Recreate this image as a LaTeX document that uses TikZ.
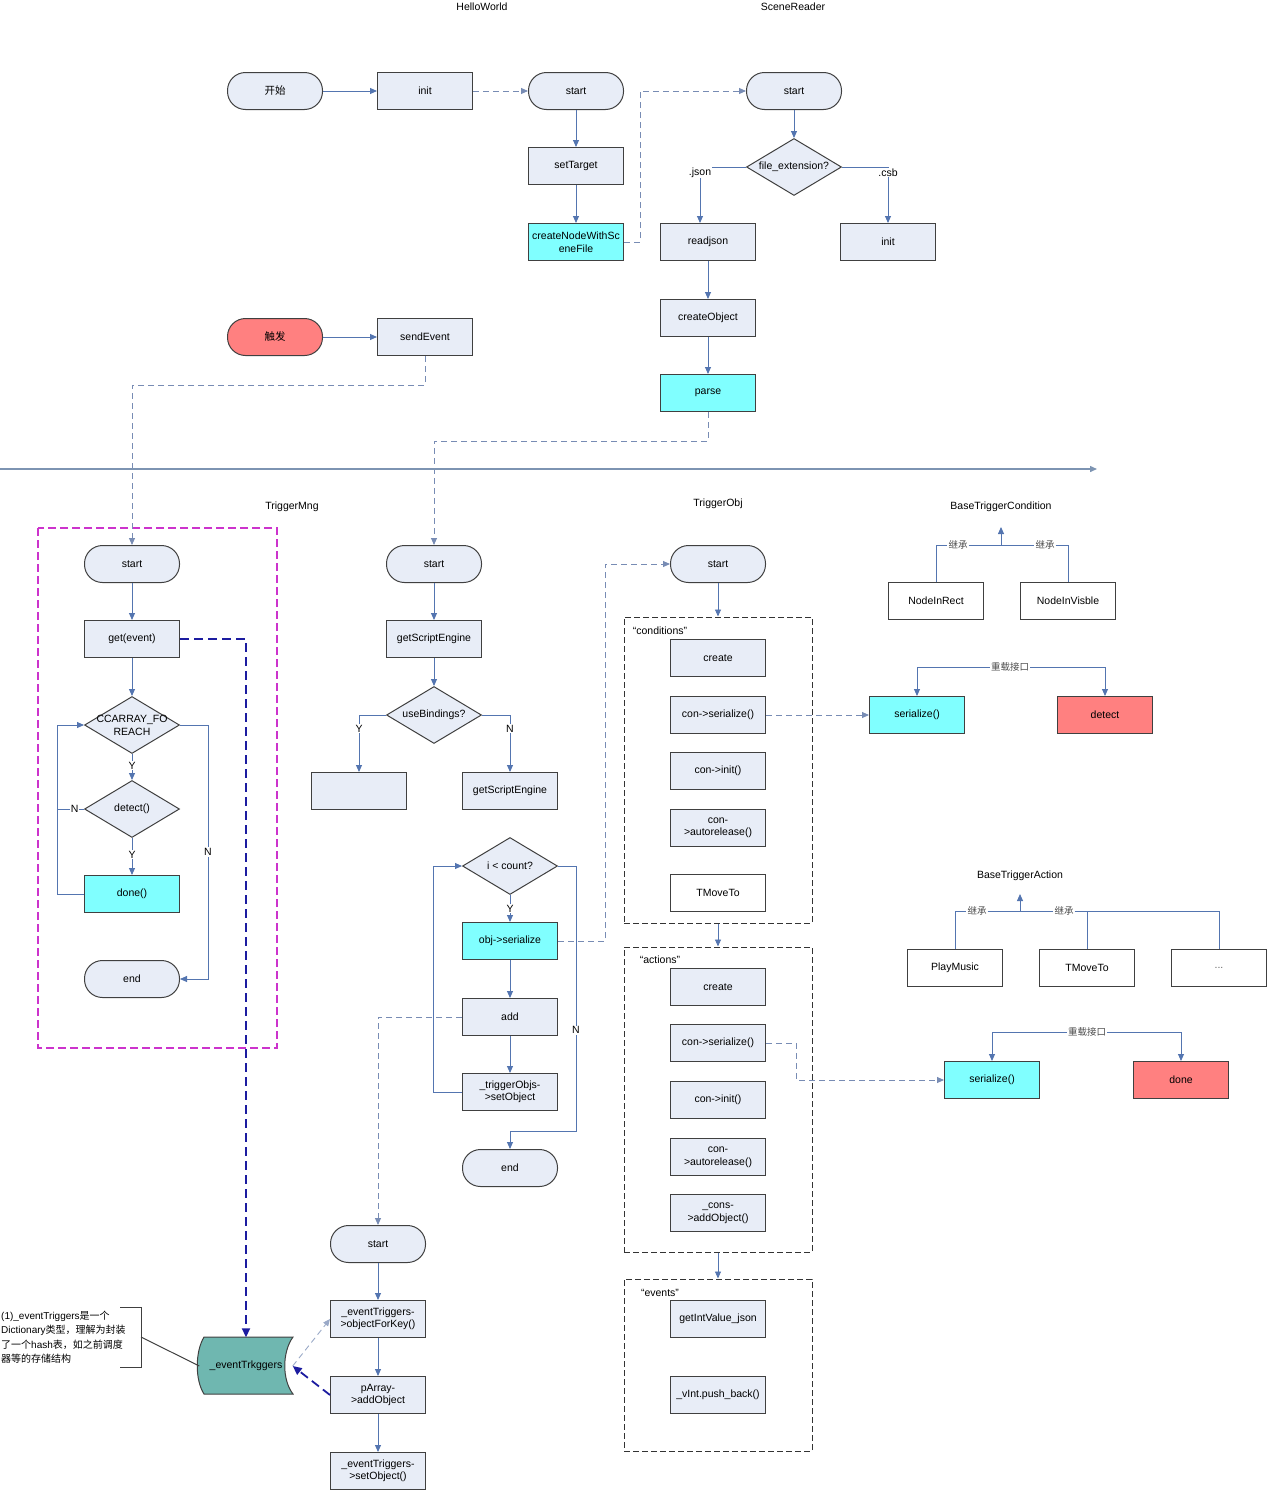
\documentclass[tikz,border=0pt]{standalone}
\usepackage{fontspec}
\setmainfont{Liberation Sans}
\newfontfamily\cjk{Noto Sans CJK SC}
\usepackage{tikz}
\usetikzlibrary{arrows,%
                arrows.meta,%
                shapes.geometric}
\definecolor{boxfill}{RGB}{232,237,247}
\definecolor{boxline}{RGB}{64,64,64}
\definecolor{flowblue}{RGB}{84,117,176}
\definecolor{linkgray}{RGB}{120,140,180}
\definecolor{hotcyan}{RGB}{128,255,255}
\definecolor{hotred}{RGB}{255,128,128}
\definecolor{storeteal}{RGB}{111,183,176}
\definecolor{refblue}{RGB}{28,28,160}
\definecolor{mngpink}{RGB}{204,51,204}
\definecolor{axisgray}{RGB}{125,148,178}

\begin{document}
\begin{tikzpicture}[x=1pt,y=-1pt,font=\fontsize{10.5}{12.5}\selectfont]
  \useasboundingbox (0,0) rectangle (1267,1491);
  \tikzstyle{BoxStyle}=[draw=boxline,fill=boxfill,line width=1pt,minimum width=95pt,minimum height=37pt,inner sep=1pt,align=center]
  \tikzstyle{PlainStyle}=[BoxStyle,fill=white]
  \tikzstyle{TermStyle}=[BoxStyle,rounded corners=18pt]
  \tikzstyle{DecStyle}=[diamond,draw=boxline,fill=boxfill,line width=1pt,minimum width=95pt,minimum height=57pt,aspect=1.67,inner sep=0pt]
  \tikzstyle{GroupStyle}=[draw=black!80,line width=1pt,dash pattern=on 6pt off 3pt,minimum width=188pt]
  \tikzstyle{LabelStyle}=[fill=white,inner sep=1pt]
  \tikzstyle{CnStyle}=[LabelStyle,text=black!70,font=\cjk\fontsize{9.5}{11}\selectfont]
  \tikzstyle{EdgeStyle}=[draw=flowblue,line width=0.9pt,-{Triangle[length=7pt,width=6pt]}]
  \tikzstyle{TreeStyle}=[draw=flowblue,line width=0.9pt]
  \tikzstyle{LinkStyle}=[draw=linkgray,line width=0.9pt,dash pattern=on 6pt off 4pt,-{Triangle[length=7pt,width=6pt]}]
  \tikzstyle{RefStyle}=[draw=refblue,line width=1.8pt,dash pattern=on 9pt off 5pt,-{Triangle[length=9pt,width=8pt]}]
  % titles
  \node (hwtitle) at (482,7) {HelloWorld};
  \node (srtitle) at (793,7) {SceneReader};
  \node (tmtitle) at (292,507) {TriggerMng};
  \node (totitle) at (718,504) {TriggerObj};
  \node (btctitle) at (1001,507) {BaseTriggerCondition};
  \node (btatitle) at (1020,876) {BaseTriggerAction};
  % HelloWorld
  \node[TermStyle] (kaishi) at (275,91) {\cjk 开始};
  \node[BoxStyle] (hwinit) at (425,91) {init};
  \node[TermStyle] (hwstart) at (576,91) {start};
  \node[BoxStyle] (settarget) at (576,166) {setTarget};
  \node[BoxStyle,fill=hotcyan] (createnode) at (576,242) {createNodeWithSc\\eneFile};
  % SceneReader
  \node[TermStyle] (srstart) at (794,91) {start};
  \node[DecStyle] (fileext) at (794,167) {file\_extension?};
  \node[BoxStyle] (readjson) at (708,242) {readjson};
  \node[BoxStyle] (csbinit) at (888,242) {init};
  \node[BoxStyle] (createobj) at (708,318) {createObject};
  \node[BoxStyle,fill=hotcyan] (parse) at (708,393) {parse};
  % trigger
  \node[TermStyle,fill=hotred] (chufa) at (275,337) {\cjk 触发};
  \node[BoxStyle] (sendevent) at (425,337) {sendEvent};
  \coordinate (axisL) at (0,469);
  \coordinate (axisR) at (1097,469);
  % TriggerMng
  \draw[mngpink,line width=1.4pt,dash pattern=on 8pt off 4pt] (38,528) rectangle (277,1048);
  \node[TermStyle] (tmstart) at (132,564) {start};
  \node[BoxStyle] (getevent) at (132,639) {get(event)};
  \node[DecStyle,label={[align=center,font=\fontsize{10.5}{13}\selectfont]center:CCARRAY\_FO\\REACH}] (foreach) at (132,725) {};
  \node[DecStyle] (detect) at (132,809) {detect()};
  \node[BoxStyle,fill=hotcyan] (done) at (132,894) {done()};
  \node[TermStyle] (tmend) at (132,979) {end};
  % middle column
  \node[TermStyle] (mstart) at (434,564) {start};
  \node[BoxStyle] (getscript) at (434,639) {getScriptEngine};
  \node[DecStyle] (usebind) at (434,715) {useBindings?};
  \node[BoxStyle] (yesbox) at (359,791) {};
  \node[BoxStyle] (getscript2) at (510,791) {getScriptEngine};
  \node[DecStyle] (loopdec) at (510,866) {i < count?};
  \node[BoxStyle,fill=hotcyan] (objser) at (510,941) {obj->serialize};
  \node[BoxStyle] (addnode) at (510,1017) {add};
  \node[BoxStyle] (setobj) at (510,1092) {\_triggerObjs-\\>setObject};
  \node[TermStyle] (mend) at (510,1168) {end};
  % lower column
  \node[TermStyle] (lstart) at (378,1244) {start};
  \node[BoxStyle] (objkey) at (378,1319) {\_eventTriggers-\\>objectForKey()};
  \node[BoxStyle] (parray) at (378,1395) {pArray-\\>addObject};
  \node[BoxStyle] (setobj2) at (378,1471) {\_eventTriggers-\\>setObject()};
  \filldraw[fill=storeteal,draw=boxline,line width=1pt] (204,1337) -- (293,1337)
    .. controls (282,1352) and (282,1380) .. (293,1394) -- (204,1394)
    .. controls (195,1380) and (195,1352) .. (204,1337) -- cycle;
  \node[inner sep=0pt,minimum width=93pt,minimum height=57pt] (evtrig) at (246,1366) {\_eventTrkggers};
  \node[align=left,anchor=west,inner sep=1pt,font=\fontsize{10}{14.5}\selectfont] (note) at (0,1337)
    {(1)\_eventTriggers{\cjk 是一个}\\Dictionary{\cjk 类型，理解为封装}\\{\cjk 了一个}hash{\cjk 表，如之前调度}\\{\cjk 器等的存储结构}};
  \coordinate (brk) at (141,1337);
  \draw[boxline,line width=1pt] (120,1307) -- (141,1307) -- (141,1367) -- (120,1367);
  % TriggerObj
  \node[TermStyle] (ostart) at (718,564) {start};
  \node[GroupStyle,minimum height=306pt] (conds) at (718,770) {};
  \node (condlbl) at (660,631) {“conditions”};
  \node[BoxStyle] (ccreate) at (718,658) {create};
  \node[BoxStyle] (cser) at (718,715) {con->serialize()};
  \node[BoxStyle] (cinit) at (718,771) {con->init()};
  \node[BoxStyle] (crel) at (718,828) {con-\\>autorelease()};
  \node[PlainStyle] (cmove) at (718,893) {TMoveTo};
  \node[GroupStyle,minimum height=305pt] (acts) at (718,1099.5) {};
  \node (actlbl) at (660,960) {“actions”};
  \node[BoxStyle] (acreate) at (718,987) {create};
  \node[BoxStyle] (aser) at (718,1043) {con->serialize()};
  \node[BoxStyle] (ainit) at (718,1100) {con->init()};
  \node[BoxStyle] (arel) at (718,1157) {con-\\>autorelease()};
  \node[BoxStyle] (aadd) at (718,1213) {\_cons-\\>addObject()};
  \node[GroupStyle,minimum height=172pt] (evts) at (718,1365) {};
  \node (evtlbl) at (660,1293) {“events”};
  \node[BoxStyle] (eget) at (718,1319) {getIntValue\_json};
  \node[BoxStyle] (epush) at (718,1395) {\_vInt.push\_back()};
  % BaseTriggerCondition
  \node[PlainStyle] (nrect) at (936,601) {NodeInRect};
  \node[PlainStyle] (nvis) at (1068,601) {NodeInVisble};
  \node[CnStyle] (inh1) at (958,545) {继承};
  \node[CnStyle] (inh2) at (1045,545) {继承};
  \coordinate (cjoin) at (1001,545);
  \coordinate (ctip) at (1001,527);
  \node[CnStyle] (ovl1) at (1010,667) {重载接口};
  \node[BoxStyle,fill=hotcyan] (ser1) at (917,715) {serialize()};
  \node[BoxStyle,fill=hotred] (det1) at (1105,715) {detect};
  % BaseTriggerAction
  \node[PlainStyle] (pmusic) at (955,968) {PlayMusic};
  \node[PlainStyle] (amove) at (1087,968) {TMoveTo};
  \node[PlainStyle] (adots) at (1219,968) {\textcolor{black!60}{...}};
  \node[CnStyle] (inh3) at (977,911) {继承};
  \node[CnStyle] (inh4) at (1064,911) {继承};
  \coordinate (ajoin) at (1020,911);
  \coordinate (atip) at (1020,894);
  \node[CnStyle] (ovl2) at (1087,1032) {重载接口};
  \node[BoxStyle,fill=hotcyan] (ser2) at (992,1080) {serialize()};
  \node[BoxStyle,fill=hotred] (done2) at (1181,1080) {done};
  % connectors
  \draw[EdgeStyle] (kaishi) -- (hwinit);
  \draw[LinkStyle] (hwinit) -- (hwstart);
  \draw[EdgeStyle] (hwstart) -- (settarget);
  \draw[EdgeStyle] (settarget) -- (createnode);
  \draw[LinkStyle] (createnode.east) -- ++(16,0) |- (srstart.west);
  \draw[EdgeStyle] (srstart) -- (fileext);
  \draw[EdgeStyle] (fileext.west) -| node[LabelStyle,pos=0.55]{.json} ([xshift=-8pt]readjson.north);
  \draw[EdgeStyle] (fileext.east) -| node[LabelStyle,pos=0.55]{.csb} (csbinit.north);
  \draw[EdgeStyle] (readjson) -- (createobj);
  \draw[EdgeStyle] (createobj) -- (parse);
  \draw[LinkStyle] (parse.south) -- ++(0,29) -| (mstart.north);
  \draw[EdgeStyle] (chufa) -- (sendevent);
  \draw[LinkStyle] (sendevent.south) -- ++(0,29) -| (tmstart.north);
  \draw[draw=axisgray,line width=1.4pt,-{Triangle[length=7pt,width=6pt]}] (axisL) -- (axisR);
  \draw[EdgeStyle] (tmstart) -- (getevent);
  \draw[EdgeStyle] (getevent) -- (foreach);
  \draw[EdgeStyle] (foreach) -- node[LabelStyle,pos=0.45]{Y} (detect);
  \draw[EdgeStyle] (detect) -- node[LabelStyle,pos=0.45]{Y} (done);
  \draw[EdgeStyle] (done.west) -- ++(-27,0) |- (foreach.west);
  \draw[TreeStyle] (detect.west) -- node[LabelStyle,pos=0.35]{N} ++(-27,0);
  \draw[EdgeStyle] (foreach.east) -- ++(28,0) |- node[LabelStyle,pos=0.25]{N} (tmend.east);
  \draw[RefStyle] (getevent.east) -| (evtrig.north);
  \draw[EdgeStyle] (mstart) -- (getscript);
  \draw[EdgeStyle] (getscript) -- (usebind);
  \draw[EdgeStyle] (usebind.west) -| node[LabelStyle,pos=0.62]{Y} (yesbox.north);
  \draw[EdgeStyle] (usebind.east) -| node[LabelStyle,pos=0.62]{N} (getscript2.north);
  \draw[EdgeStyle] (loopdec) -- node[LabelStyle]{Y} (objser);
  \draw[EdgeStyle] (objser) -- (addnode);
  \draw[EdgeStyle] (addnode) -- (setobj);
  \draw[EdgeStyle] (setobj.west) -- ++(-29,0) |- (loopdec.west);
  \draw[EdgeStyle] (loopdec.east) -- ++(18,0) -- node[LabelStyle,pos=0.62]{N} ++(0,265) -| (mend.north);
  \draw[LinkStyle] (objser.east) -- ++(47,0) |- (ostart.west);
  \draw[LinkStyle] (addnode.west) -| (lstart.north);
  \draw[EdgeStyle] (lstart) -- (objkey);
  \draw[EdgeStyle] (objkey) -- (parray);
  \draw[EdgeStyle] (parray) -- (setobj2);
  \draw[LinkStyle,draw=linkgray!75] (evtrig.east) -- (objkey.west);
  \draw[RefStyle] (parray.west) -- (evtrig.east);
  \draw[boxline,line width=1pt] (brk) -- (evtrig.west);
  \draw[EdgeStyle] (ostart) -- (conds.north);
  \draw[EdgeStyle] (conds.south) -- (acts.north);
  \draw[EdgeStyle] (acts.south) -- (evts.north);
  \draw[LinkStyle] (cser.east) -- (ser1.west);
  \draw[LinkStyle] (aser.east) -- ++(30,0) |- (ser2.west);
  \draw[TreeStyle] (nrect.north) |- (inh1.west);
  \draw[TreeStyle] (inh1.east) -- (inh2.west);
  \draw[TreeStyle] (inh2.east) -| (nvis.north);
  \draw[EdgeStyle] (cjoin) -- (ctip);
  \draw[EdgeStyle] (ovl1.west) -| (ser1.north);
  \draw[EdgeStyle] (ovl1.east) -| (det1.north);
  \draw[TreeStyle] (pmusic.north) |- (inh3.west);
  \draw[TreeStyle] (inh3.east) -- (inh4.west);
  \draw[TreeStyle] (inh4.east) -| (adots.north);
  \draw[TreeStyle] (amove.north) -- (amove.north |- ajoin);
  \draw[EdgeStyle] (ajoin) -- (atip);
  \draw[EdgeStyle] (ovl2.west) -| (ser2.north);
  \draw[EdgeStyle] (ovl2.east) -| (done2.north);
\end{tikzpicture}
\end{document}
